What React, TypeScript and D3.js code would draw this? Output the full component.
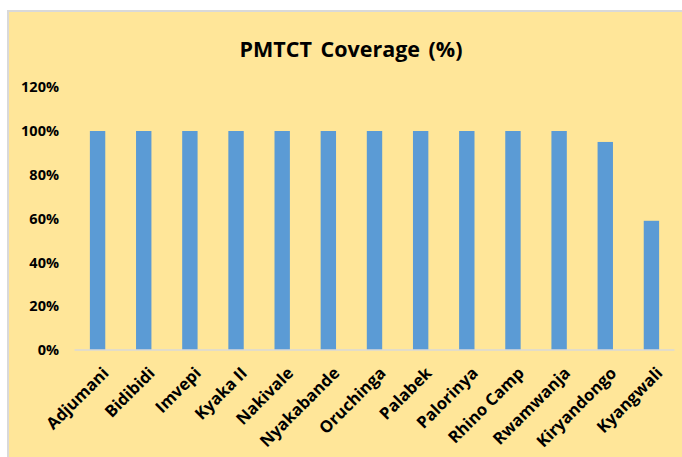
import React from "react";
import * as d3 from "d3";

const categories = [
  "Adjumani", "Bidibidi", "Imvepi", "Kyaka II", "Nakivale", "Nyakabande",
  "Oruchinga", "Palabek", "Palorinya", "Rhino Camp", "Rwamwanja",
  "Kiryandongo", "Kyangwali",
];
const coverage = [1, 1, 1, 1, 1, 1, 1, 1, 1, 1, 1, 0.95, 0.59];
const yTicks = [0, 0.2, 0.4, 0.6, 0.8, 1.0, 1.2];
const title = "PMTCT Coverage (%)";

const W = 682;
const H = 457;
const FONT = "'Open Sans', 'Noto Sans', sans-serif";

export default function App() {
  const x = d3
    .scaleBand<string>()
    .domain(categories)
    .range([74.5, 674.5])
    .paddingInner(2 / 3)
    .paddingOuter(1 / 3);
  const y = d3.scaleLinear().domain([0, 1.2]).range([350, 87.2]);
  const fmt = d3.format(".0%");

  return (
    <svg
      width={W}
      height={H}
      style={{ position: "absolute", left: 0, top: 0 }}
      fontFamily={FONT}
    >
      <rect x={0} y={0} width={W} height={H} fill="#ffffff" />
      <rect x={8} y={11} width={720} height={520} fill="#FFE699" stroke="#D9D9D9" strokeWidth={2} />
      <text x={351} y={57} textAnchor="middle" fontSize={21.5} fontWeight={700} fill="#000" wordSpacing={3}>
        {title}
      </text>
      {yTicks.map((t) => (
        <text
          key={t}
          x={59}
          y={y(t)}
          dy="0.36em"
          textAnchor="end"
          fontSize={14.5}
          fontWeight={700}
          fill="#000"
        >
          {fmt(t)}
        </text>
      ))}
      {categories.map((c, i) => (
        <rect
          key={c}
          x={x(c)}
          y={y(coverage[i])}
          width={x.bandwidth()}
          height={y(0) - y(coverage[i])}
          fill="#5B9BD5"
        />
      ))}
      <line x1={74.5} x2={674.5} y1={y(0)} y2={y(0)} stroke="#D9D9D9" strokeWidth={1.5} />
      {categories.map((c) => {
        const cx = (x(c) as number) + x.bandwidth() / 2;
        return (
          <text
            key={c}
            transform={`translate(${cx + 4},${366}) rotate(-45)`}
            dy="0.7em"
            textAnchor="end"
            fontSize={16.5}
            fontWeight={700}
            fill="#000"
          >
            {c}
          </text>
        );
      })}
    </svg>
  );
}
